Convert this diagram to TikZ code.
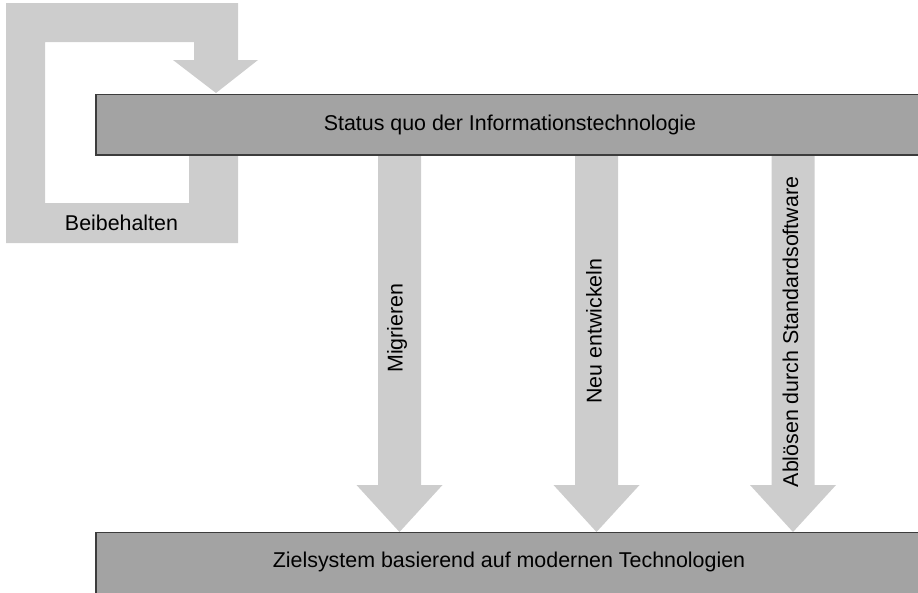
\documentclass[tikz,border=0pt]{standalone}
\usepackage{fontspec}
\setmainfont{Liberation Sans}
\usetikzlibrary{calc}
\definecolor{arrowgray}{HTML}{CDCDCD}
\definecolor{boxgray}{HTML}{A3A3A3}
\definecolor{boxline}{HTML}{3C3C3C}
\begin{document}
\begin{tikzpicture}[x=1pt,y=-1pt,
  fat/.style={fill=arrowgray,draw=none},
  bar/.style={fill=boxgray,draw=boxline,line width=1.6pt},
  lbl/.style={font=\fontsize{21.4}{25}\selectfont,inner sep=0pt},
  vlbl/.style={lbl,rotate=90}]
\useasboundingbox (0,0) rectangle (918,592);
% loop arrow (Beibehalten)
\coordinate (loopTL) at (6,3);
\coordinate (loopBR) at (238,243);
\coordinate (tipL) at (216,93);
\fill[fat] (loopTL) -- (238,3) -- (238,60) -- (258,60) -- (tipL) -- (173,60) -- (194,60)
  -- (194,42) -- (45,42) -- (45,203) -- (189,203) -- (189,150) -- (238,150) -- (loopBR) -- (6,243) -- cycle;
\node[lbl] (keep) at (121.5,223) {Beibehalten};
% vertical arrows
\foreach \n/\x in {a/399.5,b/596.5,c/793}{
  \coordinate (\n s) at (\x,150);
  \coordinate (\n t) at (\x,532);
  \fill[fat] ($(\n s)+(-21.5,0)$) -- ($(\n s)+(21.5,0)$) -- ($(\n t)+(21.5,-47)$) -- ($(\n t)+(43,-47)$)
    -- (\n t) -- ($(\n t)+(-43,-47)$) -- ($(\n t)+(-21.5,-47)$) -- cycle;
}
\node[vlbl] (mig) at (397,328) {Migrieren};
\node[vlbl] (neu) at (594,331) {Neu entwickeln};
\node[vlbl] (abl) at (790.5,332) {Ablösen durch Standardsoftware};
% boxes
\draw[bar] (96,94.5) rectangle (922,155);
\node[lbl] (status) at (510,125) {Status quo der Informationstechnologie};
\draw[bar] (96,532.5) rectangle (922,596);
\node[lbl] (ziel) at (509,562) {Zielsystem basierend auf modernen Technologien};
\end{tikzpicture}
\end{document}
